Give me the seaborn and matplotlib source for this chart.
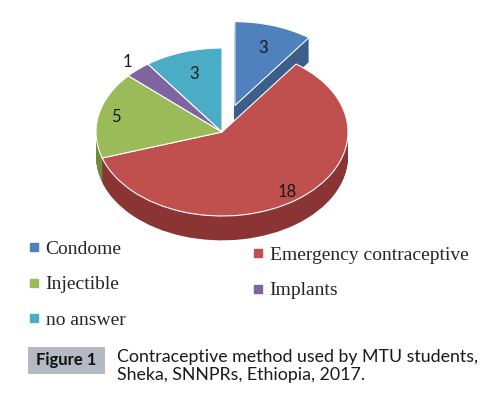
import matplotlib
matplotlib.use('Agg')
import matplotlib.pyplot as plt
import matplotlib.patches as mpatches
from matplotlib.lines import Line2D
import numpy as np
import seaborn as sns

# data
methods = ['Condome', 'Emergency contraceptive', 'Injectible', 'Implants', 'no answer']
counts = [3, 18, 5, 1, 3]
colors = ['#4f81bd', '#c0504d', '#9bbb59', '#8064a2', '#4bacc6']
side_colors = ['#3b5f8a', '#8a3533', '#6f8a3c', '#5c4676', '#35819a']
label_dist = [0.72, 0.88, 0.86, 1.12, 0.72]

sns.set_theme(style='white')

fig = plt.figure(figsize=(5.01, 3.97), dpi=100)
ax = fig.add_axes([0, 0, 1, 1])

# pixel -> data mapping of the pie area (rx=126px, ry=84px, center at 222,132)
rx, ry, cx, cy = 126, 84, 222, 132
W, H = 501, 397
explode = [0.33, 0, 0, 0, 0]
depth = 0.29

# side of the 3D pie: stacked darker layers
for d in np.linspace(depth, 0.01, 30):
    ax.pie(counts, colors=side_colors, startangle=90, counterclock=False,
           explode=explode, center=(0, -d), radius=1, frame=True,
           wedgeprops=dict(linewidth=0))

wedges, texts, autotexts = ax.pie(
    counts, colors=colors, startangle=90, counterclock=False,
    explode=explode, radius=1, frame=True,
    autopct=lambda p: '%d' % round(p * sum(counts) / 100),
    wedgeprops=dict(linewidth=0.8, edgecolor='white'),
    textprops=dict(fontsize=12, family='Lato', color='#1a1a1a'))

for w, t, r in zip(wedges, autotexts, label_dist):
    ang = np.deg2rad((w.theta1 + w.theta2) / 2)
    x0, y0 = w.center
    t.set_position((x0 + r * np.cos(ang), y0 + r * np.sin(ang)))
    t.set_ha('center')
    t.set_va('center')

ax.set_aspect('auto')
ax.set_xlim(-cx / rx, (W - cx) / rx)
ax.set_ylim(-(H - cy) / ry, cy / ry)
ax.axis('off')

# legend, two columns slightly offset like the original
def handles(idx):
    return [Line2D([], [], marker='s', linestyle='', markersize=5.5,
                   color=colors[i]) for i in idx]

leg_kw = dict(frameon=False, loc='upper left', borderpad=0, borderaxespad=0,
              handlelength=0.6, handletextpad=0.3, labelspacing=0.93,
              prop=dict(family='Liberation Serif', size=14))
leg1 = fig.legend(handles([0, 2, 4]), [methods[i] for i in [0, 2, 4]],
                  bbox_to_anchor=(28 / W, 1 - 240 / H), **leg_kw)
leg2 = fig.legend(handles([1, 3]), [methods[i] for i in [1, 3]],
                  bbox_to_anchor=(252 / W, 1 - 246 / H), **leg_kw)

# caption
fig.patches.append(mpatches.Rectangle((28 / W, 1 - 374 / H), 77 / W, 27 / H,
                                      transform=fig.transFigure,
                                      facecolor='#b4bac4', edgecolor='none'))
fig.text(66 / W, 1 - 360 / H, 'Figure 1', ha='center', va='center',
         fontsize=12, fontweight='bold', family='Lato', color='#111111')
fig.text(117 / W, 1 - 366 / H,
         'Contraceptive method used by MTU students,\nSheka, SNNPRs, Ethiopia, 2017.',
         ha='left', va='center', fontsize=12.8, family='Lato', color='#1a1a1a',
         linespacing=1.2)

fig.savefig('out.png', dpi=100)
